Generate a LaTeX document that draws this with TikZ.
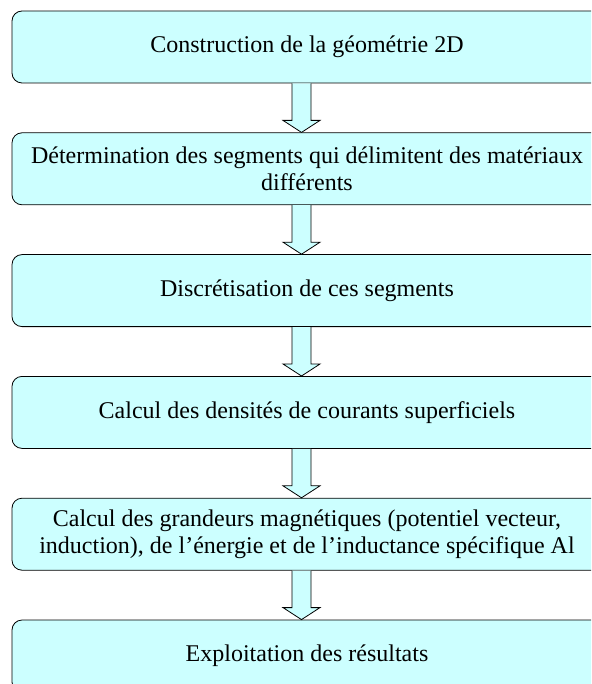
\documentclass[tikz,border=0pt]{standalone}
\usepackage{fontspec}
\setmainfont{Liberation Serif}
\usepackage{xcolor}
\usepackage{tikz}
\usetikzlibrary{positioning,calc}

\definecolor{boxcyan}{HTML}{CCFFFF}

% block arrow from the bottom of one box to the top of the next
\newcommand{\flowarrow}[2]{%
  \fill[boxcyan] ($(#1.south)+(-15,0)$) -- ($(#2.north)+(-15,12)$) -- ($(#2.north)+(-24,12)$)
    -- ($(#2.north)+(-5.5,0)$) -- ($(#2.north)+(13,12)$) -- ($(#2.north)+(4,12)$)
    -- ($(#1.south)+(4,0)$);
  \draw[thick,line join=miter] ($(#1.south)+(-15,0)$) -- ($(#2.north)+(-15,12)$) -- ($(#2.north)+(-24,12)$)
    -- ($(#2.north)+(-5.5,0)$) -- ($(#2.north)+(13,12)$) -- ($(#2.north)+(4,12)$)
    -- ($(#1.south)+(4,0)$);
}

\begin{document}
\begin{tikzpicture}[x=1pt,y=1pt,
    etape/.style={draw,thick,fill=boxcyan,rounded corners=10pt,
        minimum width=590pt,minimum height=72pt,align=center,
        font=\fontsize{24}{27.5}\selectfont}]
\useasboundingbox (0,0) rectangle (591,-684);
\clip (0,0) rectangle (591,-684);

\node[etape] (b1) at (307,-47) {Construction de la géométrie 2D};
\node[etape,below=49pt of b1] (b2) {Détermination des segments qui délimitent des matériaux\\ différents};
\node[etape,below=49pt of b2] (b3) {Discrétisation de ces segments};
\node[etape,below=49pt of b3] (b4) {Calcul des densités de courants superficiels};
\node[etape,below=49pt of b4] (b5) {Calcul des grandeurs magnétiques (potentiel vecteur,\\ induction), de l’énergie et de l’inductance spécifique Al};
\node[etape,below=49pt of b5] (b6) {Exploitation des résultats};

\foreach \a/\b in {b1/b2,b2/b3,b3/b4,b4/b5,b5/b6}
    \flowarrow{\a}{\b};
\end{tikzpicture}
\end{document}
